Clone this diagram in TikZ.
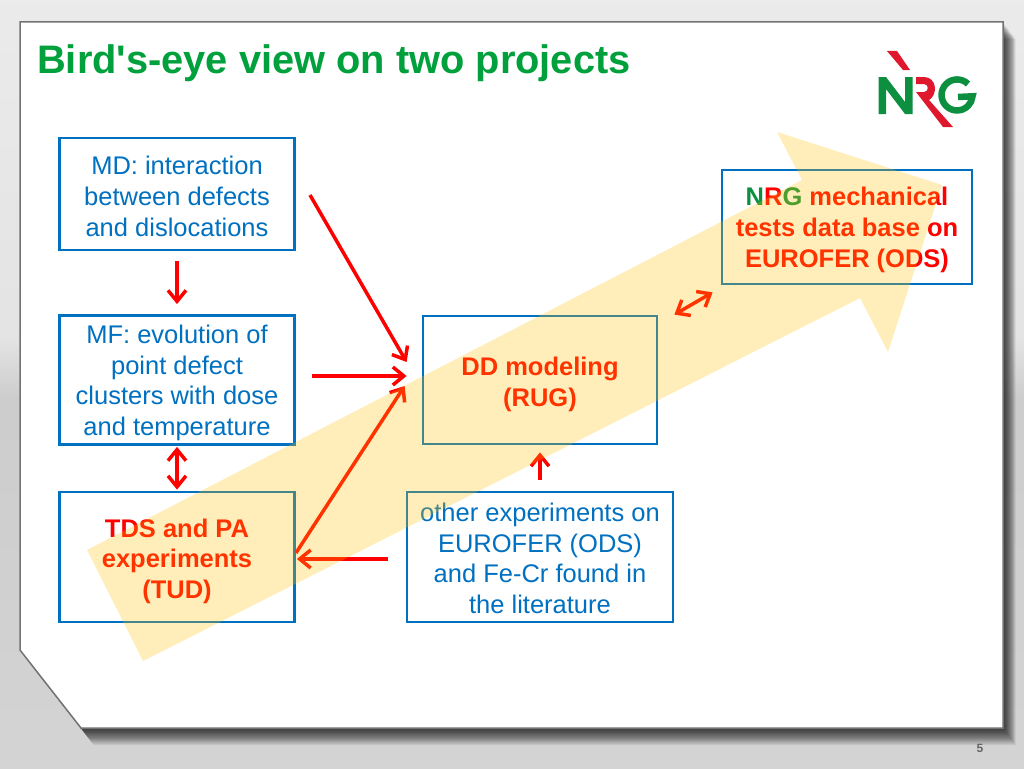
\documentclass[tikz,border=0pt]{standalone}
\usepackage{fontspec}
\setmainfont{Liberation Sans}[Ligatures=TeXOff]
\usetikzlibrary{arrows.meta}
\definecolor{box-blue}{HTML}{0070C0}
\definecolor{nrg-green}{HTML}{00A03C}
\definecolor{logo-green}{HTML}{0C9040}
\definecolor{logo-red}{HTML}{E0182D}
\definecolor{sweep-yellow}{HTML}{FFC000}
\tikzset{
    flow-box/.style = {draw=box-blue, fill=white, line width=2.8pt, rectangle, align=center, inner sep=0pt, text depth=0pt, text=box-blue, font=\fontsize{25.5}{30.7}\selectfont},
    flow-box-bold/.style = {flow-box, text=red, font=\fontsize{25.5}{30.7}\selectfont\bfseries},
    flow-arrow/.style = {draw=red, line width=3.5pt, -{Straight Barb[length=11pt,width=18pt,line width=3.5pt]}},
    flow-arrow-both/.style = {flow-arrow, {Straight Barb[length=11pt,width=18pt,line width=3.5pt]}-{Straight Barb[length=11pt,width=18pt,line width=3.5pt]}},
    panel-edge/.style = {line join=miter},
}
\newcommand{\panelpath}{(20,22) -- (1003,22) -- (1003,728) -- (81,728) -- (20,650) -- cycle}

\begin{document}
\begin{tikzpicture}[x=1pt,y=-1pt]
\useasboundingbox (0,0) rectangle (1024,768);
\shade[top color=black!8, bottom color=black!11] (0,0) rectangle (1024,360);
\shade[top color=black!20, bottom color=black!17] (0,360) rectangle (1024,768);
\shade[top color=black!11, bottom color=black!20] (0,340) rectangle (1024,400);
\foreach \k in {1,...,14} {
    \fill[black, opacity=0.08, shift={(0.9*\k,1.2*\k)}] \panelpath;
}
\fill[white, draw=black!55, line width=1.5pt, panel-edge] \panelpath;

\node[anchor=west, inner sep=0pt, text=nrg-green, font=\fontsize{39.8}{46}\selectfont\bfseries] (title) at (37,63) {Bird's-eye view on two projects};
\node[text=black!60, font=\fontsize{12}{14}\selectfont\bfseries] (page-number) at (980,748) {5};

\fill[logo-green] (878.5,114) -- (878.5,77) -- (886,77) -- (905,102) -- (905,77) -- (912.5,77) -- (912.5,114) -- (905,114) -- (886,89) -- (886,114) -- cycle;
\draw[logo-green, line width=6.5pt] (968,84) arc[start angle=45, end angle=355, radius=15.5pt] -- (958,97);
\fill[logo-red] (887,51) -- (897,51) -- (910,70) -- (903,70) -- cycle;
\fill[logo-red] (916,77) -- (924,77) .. controls (937,77) and (938,95) .. (929,100) -- (953,127) -- (943,127) -- (916,92) -- (924,92) .. controls (929,92) and (929,84) .. (924,84) -- (916,84) -- cycle;

\node[flow-box, text height=84pt, minimum width=235pt, minimum height=112pt] (md-box) at (177,194) {MD: interaction\\between defects\\and dislocations};
\node[flow-box, text height=111pt, minimum width=235pt, minimum height=129pt] (mf-box) at (177,380) {MF: evolution of\\point defect\\clusters with dose\\and temperature};
\node[flow-box-bold, text height=83pt, minimum width=235pt, minimum height=130pt] (tds-box) at (177,557) {TDS and PA\\experiments\\(TUD)};
\node[flow-box-bold, text height=52pt, minimum width=234pt, minimum height=128pt] (dd-box) at (540,380) {DD modeling\\(RUG)};
\node[flow-box, text height=113pt, minimum width=266pt, minimum height=130pt] (other-box) at (540,557) {other experiments on\\EUROFER (ODS)\\and Fe-Cr found in\\the literature};
\node[flow-box-bold, text height=80pt, minimum width=250pt, minimum height=114pt] (nrg-box) at (847,227) {{\color{logo-green}N}R{\color{logo-green}G} mechanical\\tests data base on\\EUROFER (ODS)};

\coordinate (md-tail) at (310,195);
\coordinate (mf-tail) at (312,376);
\draw[flow-arrow, shorten <=10pt, shorten >=10pt] (md-box) -- (mf-box);
\draw[flow-arrow] (md-tail) -- ([xshift=-15pt,yshift=18pt]dd-box.west);
\draw[flow-arrow] (mf-tail) -- ([xshift=-15pt,yshift=4pt]dd-box.west);
\draw[flow-arrow] ([yshift=4pt]tds-box.east) -- ([xshift=-17pt,yshift=-6pt]dd-box.west);
\draw[flow-arrow] ([xshift=-18pt,yshift=-2pt]other-box.west) -- ([xshift=1pt,yshift=-2pt]tds-box.east);
\draw[flow-arrow] ([yshift=11pt]other-box.north) -- ([yshift=-7pt]dd-box.south);
\draw[flow-arrow-both] ([yshift=-1pt]mf-box.south) -- ([yshift=1pt]tds-box.north);
\draw[flow-arrow-both] ([xshift=16pt,yshift=0pt]dd-box.north east) -- ([xshift=-8pt,yshift=-7pt]nrg-box.south west);

\fill[sweep-yellow, opacity=0.27] (87,550) -- (802,180) -- (777,132) -- (942,185) -- (888,352) -- (860,298) -- (143,661) -- cycle;
\end{tikzpicture}
\end{document}
